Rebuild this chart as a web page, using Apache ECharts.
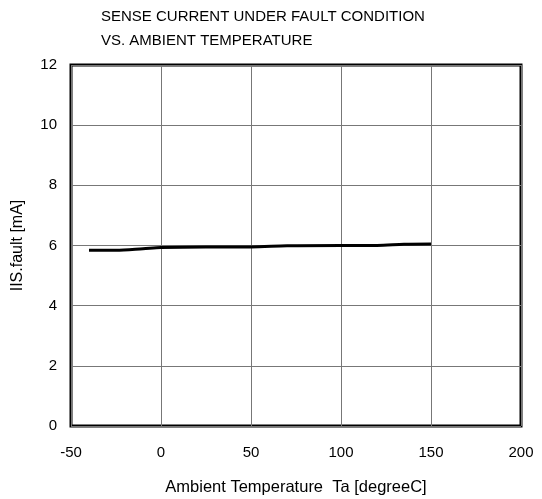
<!DOCTYPE html>
<html><head><meta charset="utf-8">
<script src="https://cdn.jsdelivr.net/npm/echarts@6/dist/echarts.min.js"></script>
<style>html,body{margin:0;padding:0;background:#fff}#c{width:542px;height:499px}</style>
</head><body><div id="c"></div>
<script>
const titleLines = ["SENSE CURRENT UNDER FAULT CONDITION", "VS. AMBIENT TEMPERATURE"];
const xName = "Ambient Temperature  Ta [degreeC]";
const yName = "IIS.fault [mA]";
const temps = [-40, -25, -10, 0, 25, 50, 70, 100, 120, 135, 150];
const iisFault = [5.84, 5.84, 5.89, 5.93, 5.95, 5.95, 5.99, 6.0, 6.0, 6.04, 6.05];
const xTicks = [-50, 0, 50, 100, 150, 200];
const yTicks = [0, 2, 4, 6, 8, 10, 12];

const font = "Liberation Sans, Arial, sans-serif";
const chart = echarts.init(document.getElementById('c'), null, {renderer: 'canvas'});
chart.setOption({
  animation: false,
  backgroundColor: '#fff',
  title: {
    text: titleLines.join('\n'),
    left: 96, top: 0,
    textStyle: {fontFamily: font, fontSize: 15, fontWeight: 'normal', color: '#000', lineHeight: 24}
  },
  grid: {left: 71, right: 21, top: 65, bottom: 73, show: true, borderColor: '#000', borderWidth: 3,
         backgroundColor: 'transparent', containLabel: false, outerBoundsMode: 'none'},
  xAxis: {
    type: 'value', min: xTicks[0], max: xTicks[xTicks.length - 1], interval: 50,
    name: xName, nameLocation: 'middle', nameGap: 53,
    nameTextStyle: {fontFamily: font, fontSize: 16.5, color: '#000'},
    axisLine: {show: false}, axisTick: {show: false},
    axisLabel: {fontFamily: font, fontSize: 15, color: '#000', margin: 19},
    splitLine: {show: true, lineStyle: {color: '#777', width: 1}}
  },
  yAxis: {
    type: 'value', min: yTicks[0], max: yTicks[yTicks.length - 1], interval: 2,
    name: yName, nameLocation: 'middle', nameGap: 45, nameRotate: 90,
    nameTextStyle: {fontFamily: font, fontSize: 16, color: '#000'},
    axisLine: {show: false}, axisTick: {show: false},
    axisLabel: {fontFamily: font, fontSize: 15, color: '#000', margin: 14},
    splitLine: {show: true, lineStyle: {color: '#777', width: 1}}
  },
  series: [{
    type: 'line', showSymbol: false, smooth: 0.3,
    data: temps.map((t, i) => [t, iisFault[i]]),
    lineStyle: {color: '#000', width: 3}
  }]
});
</script></body></html>
